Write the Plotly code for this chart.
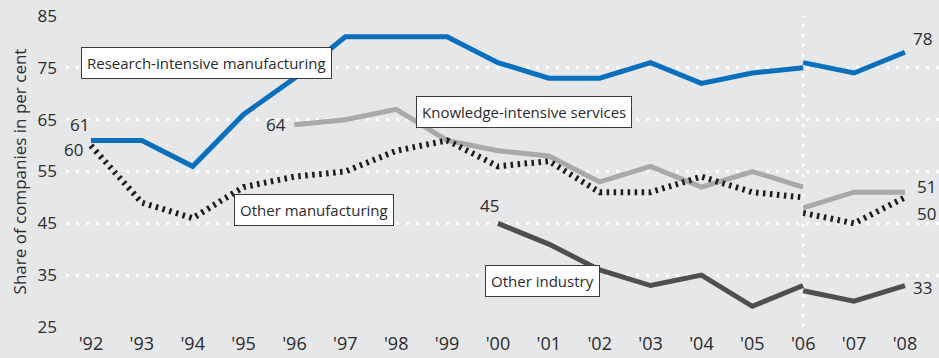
import plotly.graph_objects as go

# Survey years; the series are split at 2006 (methodological break)
years_before = list(range(1992, 2007))
years_after = [2006, 2007, 2008]
tick_labels = ["'92", "'93", "'94", "'95", "'96", "'97", "'98", "'99", "'00",
               "'01", "'02", "'03", "'04", "'05", "'06", "'07", "'08"]

research_before = [61, 61, 56, 66, 73, 81, 81, 81, 76, 73, 73, 76, 72, 74, 75]
research_after = [76, 74, 78]

knowledge_before = [None, None, None, None, 64, 65, 67, 61, 59, 58, 53, 56, 52, 55, 52]
knowledge_after = [48, 51, 51]

other_manuf_before = [60, 49, 46, 52, 54, 55, 59, 61, 56, 57, 51, 51, 54, 51, 50]
other_manuf_after = [47, 45, 50]

other_industry_before = [None] * 8 + [45, 41, 36, 33, 35, 29, 33]
other_industry_after = [32, 30, 33]

y_ticks = [25, 35, 45, 55, 65, 75, 85]
break_year = 2006

BG = "#e6e7e9"
FONT = "Open Sans"
TXT = "#2b2b2b"

fig = go.Figure()


def add_series(xb, yb, xa, ya, color, width, dash="solid"):
    for xs, ys in ((xb, yb), (xa, ya)):
        fig.add_trace(go.Scatter(
            x=xs, y=ys, mode="lines",
            line=dict(color=color, width=width, dash=dash),
            connectgaps=False, hoverinfo="skip", showlegend=False,
        ))


add_series(years_before, knowledge_before, years_after, knowledge_after, "#a9a9ab", 5)
add_series(years_before, other_industry_before, years_after, other_industry_after, "#4f4f51", 5)
add_series(years_before, other_manuf_before, years_after, other_manuf_after, "#1c1c1c", 6, "2.5px,4.5px")
add_series(years_before, research_before, years_after, research_after, "#0a6fbd", 5)

# Break marker at 2006
fig.add_shape(type="line", x0=break_year, x1=break_year, y0=0, y1=1,
              xref="x", yref="paper", layer="below",
              line=dict(color="#ffffff", width=3, dash="3px,7px"))

# Series name boxes
box_style = dict(showarrow=False, bgcolor="white", bordercolor="#3a3a3a",
                 borderwidth=1, borderpad=5, xanchor="left", yanchor="middle",
                 font=dict(family=FONT, size=15, color=TXT))
fig.add_annotation(x=1991.8, y=75.9, text="Research-intensive manufacturing", **box_style)
fig.add_annotation(x=1998.39, y=66.5, text="Knowledge-intensive services", **box_style)
fig.add_annotation(x=1994.81, y=47.6, text="Other manufacturing", **box_style)
fig.add_annotation(x=1999.74, y=33.9, text="Other industry", **box_style)

# Value labels at the series ends
val_font = dict(family=FONT, size=17, color=TXT)
fig.add_annotation(x=1992, y=research_before[0], text=str(research_before[0]),
                   showarrow=False, xanchor="right", yanchor="bottom",
                   xshift=0, yshift=2, font=val_font)
fig.add_annotation(x=1992, y=other_manuf_before[0], text=str(other_manuf_before[0]),
                   showarrow=False, xanchor="right", yanchor="middle",
                   xshift=-6, yshift=-4, font=val_font)
fig.add_annotation(x=1996, y=knowledge_before[4], text=str(knowledge_before[4]),
                   showarrow=False, xanchor="right", yanchor="middle",
                   xshift=-6, yshift=0, font=val_font)
fig.add_annotation(x=2000, y=other_industry_before[8], text=str(other_industry_before[8]),
                   showarrow=False, xanchor="center", yanchor="bottom",
                   xshift=-8, yshift=4, font=val_font)
fig.add_annotation(x=2008, y=research_after[-1], text=str(research_after[-1]),
                   showarrow=False, xanchor="left", yanchor="bottom",
                   xshift=6, yshift=0, font=val_font)
fig.add_annotation(x=2008, y=knowledge_after[-1], text=str(knowledge_after[-1]),
                   showarrow=False, xanchor="left", yanchor="middle",
                   xshift=10, yshift=6, font=val_font)
fig.add_annotation(x=2008, y=other_manuf_after[-1], text=str(other_manuf_after[-1]),
                   showarrow=False, xanchor="left", yanchor="middle",
                   xshift=10, yshift=-16, font=val_font)
fig.add_annotation(x=2008, y=other_industry_after[-1], text=str(other_industry_after[-1]),
                   showarrow=False, xanchor="left", yanchor="middle",
                   xshift=6, yshift=-2, font=val_font)

fig.update_layout(
    width=939, height=358,
    margin=dict(l=66, r=0, t=16, b=31),
    paper_bgcolor=BG, plot_bgcolor=BG,
    font=dict(family=FONT, color=TXT),
    xaxis=dict(
        range=[1991.51, 2008.67],
        tickmode="array", tickvals=list(range(1992, 2009)), ticktext=tick_labels,
        showgrid=False, zeroline=False, showline=False, ticks="",
        ticklabelstandoff=4,
        tickfont=dict(family=FONT, size=18, color=TXT),
    ),
    yaxis=dict(
        range=[25, 85],
        tickmode="array", tickvals=y_ticks,
        showgrid=True, gridcolor="#ffffff", gridwidth=3, griddash="3px,7px",
        zeroline=False, showline=False, ticks="",
        ticklabelstandoff=8,
        tickfont=dict(family=FONT, size=17, color=TXT),
        title=dict(text="Share of companies in per cent", standoff=6,
                   font=dict(family=FONT, size=17, color=TXT)),
    ),
)

fig.write_html("out.html")
